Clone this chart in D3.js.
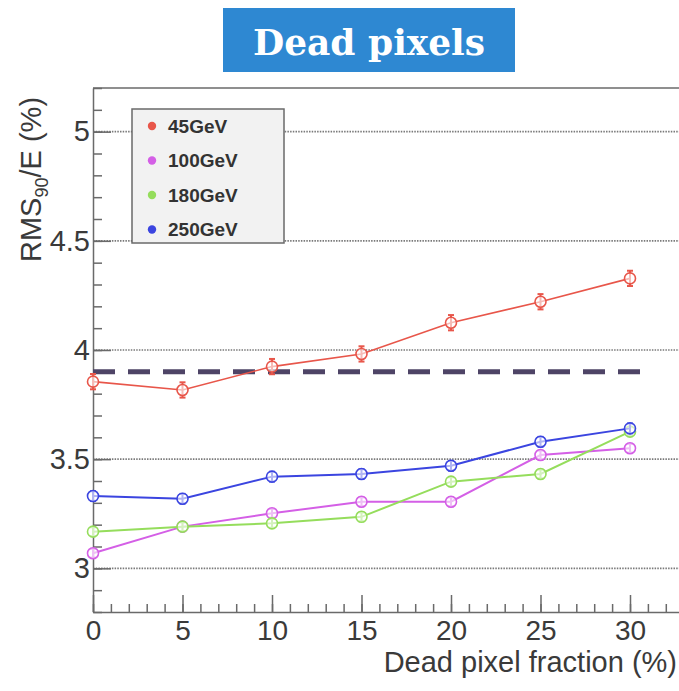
<!DOCTYPE html>
<html>
<head>
<meta charset="utf-8">
<script src="https://cdn.jsdelivr.net/npm/d3@7"></script>
<style>
  html, body { margin: 0; padding: 0; background: #fff; }
  svg { display: block; font-family: "Liberation Sans", Arial, sans-serif; }
</style>
</head>
<body>
<svg id="chart" width="679" height="691"></svg>
<script>
// Dead pixel fraction (%) scanned for each beam energy
const fractions = [0, 5, 10, 15, 20, 25, 30];
const seriesNames = ["45GeV", "100GeV", "180GeV", "250GeV"];
const seriesColors = ["#e8564a", "#d45fe6", "#95dd5c", "#3b45e0"];
const rms45 = [3.855, 3.817, 3.924, 3.982, 4.125, 4.221, 4.328];
const rms100 = [3.069, 3.191, 3.252, 3.305, 3.305, 3.519, 3.550];
const rms180 = [3.168, 3.191, 3.206, 3.236, 3.397, 3.432, 3.626];
const rms250 = [3.331, 3.319, 3.420, 3.432, 3.470, 3.580, 3.641];
const errors = [0.035, 0.02, 0.02, 0.022];
const referenceLevel = 3.9;
const yMajorTicks = [3, 3.5, 4, 4.5, 5];
const xMajorTicks = [0, 5, 10, 15, 20, 25, 30];

const seriesValues = [rms45, rms100, rms180, rms250];

const svg = d3.select("#chart");
const W = 679;
const plotLeft = 93, plotTop = 88, plotBottom = 612;

const x = d3.scaleLinear().domain([0, 33]).range([plotLeft, plotLeft + 33 * 17.9]);
const y = d3.scaleLinear().domain([2.8, 5.2]).range([plotBottom, plotTop]);

// Title banner
svg.append("rect").attr("x", 223).attr("y", 8).attr("width", 292).attr("height", 64)
  .attr("fill", "#2e88d2");
svg.append("text").attr("x", 369).attr("y", 55).attr("text-anchor", "middle")
  .attr("fill", "#fff").attr("font-family", "'DejaVu Serif', serif").attr("font-weight", "bold")
  .attr("font-size", 35).attr("textLength", 232).attr("lengthAdjust", "spacingAndGlyphs")
  .text("Dead pixels");

// Horizontal dotted grid
svg.append("g").selectAll("line").data(yMajorTicks).join("line")
  .attr("x1", plotLeft).attr("x2", W).attr("y1", d => y(d)).attr("y2", d => y(d))
  .attr("stroke", "#7a7a7a").attr("stroke-width", 1.6).attr("stroke-dasharray", "1.5,1.2");

// Frame: left, bottom and top edges
const frameColor = "#6a6a6a";
svg.append("line").attr("x1", plotLeft).attr("x2", W).attr("y1", plotTop).attr("y2", plotTop)
  .attr("stroke", frameColor).attr("stroke-width", 1.5);

// Y axis (ticks pointing inward)
const yMinor = d3.range(28, 53).map(v => v / 10);
svg.append("g").attr("transform", `translate(${plotLeft},0)`)
  .call(d3.axisLeft(y).tickValues(yMinor).tickSizeInner(-9).tickSizeOuter(0).tickFormat(""))
  .call(g => g.select(".domain").attr("stroke", frameColor).attr("stroke-width", 1.5))
  .call(g => g.selectAll(".tick line").attr("stroke", frameColor).attr("stroke-width", 1.5));
svg.append("g").attr("transform", `translate(${plotLeft},0)`)
  .call(d3.axisLeft(y).tickValues(yMajorTicks).tickSizeInner(-18).tickSizeOuter(0)
    .tickPadding(3).tickFormat(d3.format("")))
  .call(g => g.select(".domain").remove())
  .call(g => g.selectAll(".tick line").attr("stroke", frameColor).attr("stroke-width", 1.5))
  .call(g => g.selectAll(".tick text").attr("fill", "#3a3a3a").attr("font-size", 29)
    .attr("font-family", "'Liberation Sans', Arial, sans-serif"));

// X axis (ticks pointing inward)
const xMinor = d3.range(0, 34);
svg.append("g").attr("transform", `translate(0,${plotBottom})`)
  .call(d3.axisBottom(x).tickValues(xMinor).tickSizeInner(-8).tickSizeOuter(0).tickFormat(""))
  .call(g => g.select(".domain").attr("stroke", frameColor).attr("stroke-width", 1.5))
  .call(g => g.selectAll(".tick line").attr("stroke", frameColor).attr("stroke-width", 1.5));
svg.append("g").attr("transform", `translate(0,${plotBottom})`)
  .call(d3.axisBottom(x).tickValues(xMajorTicks).tickSizeInner(-17).tickSizeOuter(0)
    .tickPadding(8).tickFormat(d3.format("d")))
  .call(g => g.select(".domain").remove())
  .call(g => g.selectAll(".tick line").attr("stroke", frameColor).attr("stroke-width", 1.5))
  .call(g => g.selectAll(".tick text").attr("fill", "#3a3a3a").attr("font-size", 28)
    .attr("font-family", "'Liberation Sans', Arial, sans-serif"));

// Axis titles
svg.append("text").attr("x", 677).attr("y", 672).attr("text-anchor", "end")
  .attr("fill", "#3a3a3a").attr("font-size", 29).text("Dead pixel fraction (%)");

const yTitle = svg.append("text").attr("transform", "translate(41,262) rotate(-90)")
  .attr("fill", "#3a3a3a").attr("font-size", 29);
yTitle.append("tspan").text("RMS");
yTitle.append("tspan").attr("font-size", 18).attr("dy", 7).text("90");
yTitle.append("tspan").attr("dy", -7).text("/E (%)");

// Reference level
svg.append("line").attr("x1", x(0)).attr("x2", x(30.9))
  .attr("y1", y(referenceLevel)).attr("y2", y(referenceLevel))
  .attr("stroke", "#4e4466").attr("stroke-width", 5).attr("stroke-dasharray", "22,13");

// Series: lines, error bars and open markers
const line = d3.line().x((d, i) => x(fractions[i])).y(d => y(d));
seriesValues.forEach((vals, s) => {
  const c = seriesColors[s];
  const g = svg.append("g");
  g.append("path").attr("d", line(vals)).attr("fill", "none")
    .attr("stroke", c).attr("stroke-width", s === 0 ? 1.6 : 2);
  g.selectAll("line.err").data(vals).join("line").attr("class", "err")
    .attr("x1", (d, i) => x(fractions[i])).attr("x2", (d, i) => x(fractions[i]))
    .attr("y1", d => y(d - errors[s])).attr("y2", d => y(d + errors[s]))
    .attr("stroke", c).attr("stroke-width", 2);
  g.selectAll("line.capt").data(vals).join("line").attr("class", "capt")
    .attr("x1", (d, i) => x(fractions[i]) - 3).attr("x2", (d, i) => x(fractions[i]) + 3)
    .attr("y1", d => y(d + errors[s])).attr("y2", d => y(d + errors[s]))
    .attr("stroke", c).attr("stroke-width", 2);
  g.selectAll("line.capb").data(vals).join("line").attr("class", "capb")
    .attr("x1", (d, i) => x(fractions[i]) - 3).attr("x2", (d, i) => x(fractions[i]) + 3)
    .attr("y1", d => y(d - errors[s])).attr("y2", d => y(d - errors[s]))
    .attr("stroke", c).attr("stroke-width", 2);
  g.selectAll("circle").data(vals).join("circle")
    .attr("cx", (d, i) => x(fractions[i])).attr("cy", d => y(d)).attr("r", 5.5)
    .attr("fill", "#fff").attr("fill-opacity", 0.6)
    .attr("stroke", c).attr("stroke-width", 1.6);
});

// Legend
const lg = svg.append("g");
lg.append("rect").attr("x", 132).attr("y", 109).attr("width", 152).attr("height", 134)
  .attr("fill", "#f2f2f2").attr("stroke", "#6a6a6a").attr("stroke-width", 1.5);
seriesNames.forEach((name, i) => {
  const yy = 126 + i * 34.5;
  lg.append("circle").attr("cx", 152).attr("cy", yy).attr("r", 4.2).attr("fill", seriesColors[i]);
  lg.append("text").attr("x", 168).attr("y", yy).attr("dy", "0.36em")
    .attr("font-size", 19).attr("font-weight", "bold").attr("fill", "#333").text(name);
});
</script>
</body>
</html>
